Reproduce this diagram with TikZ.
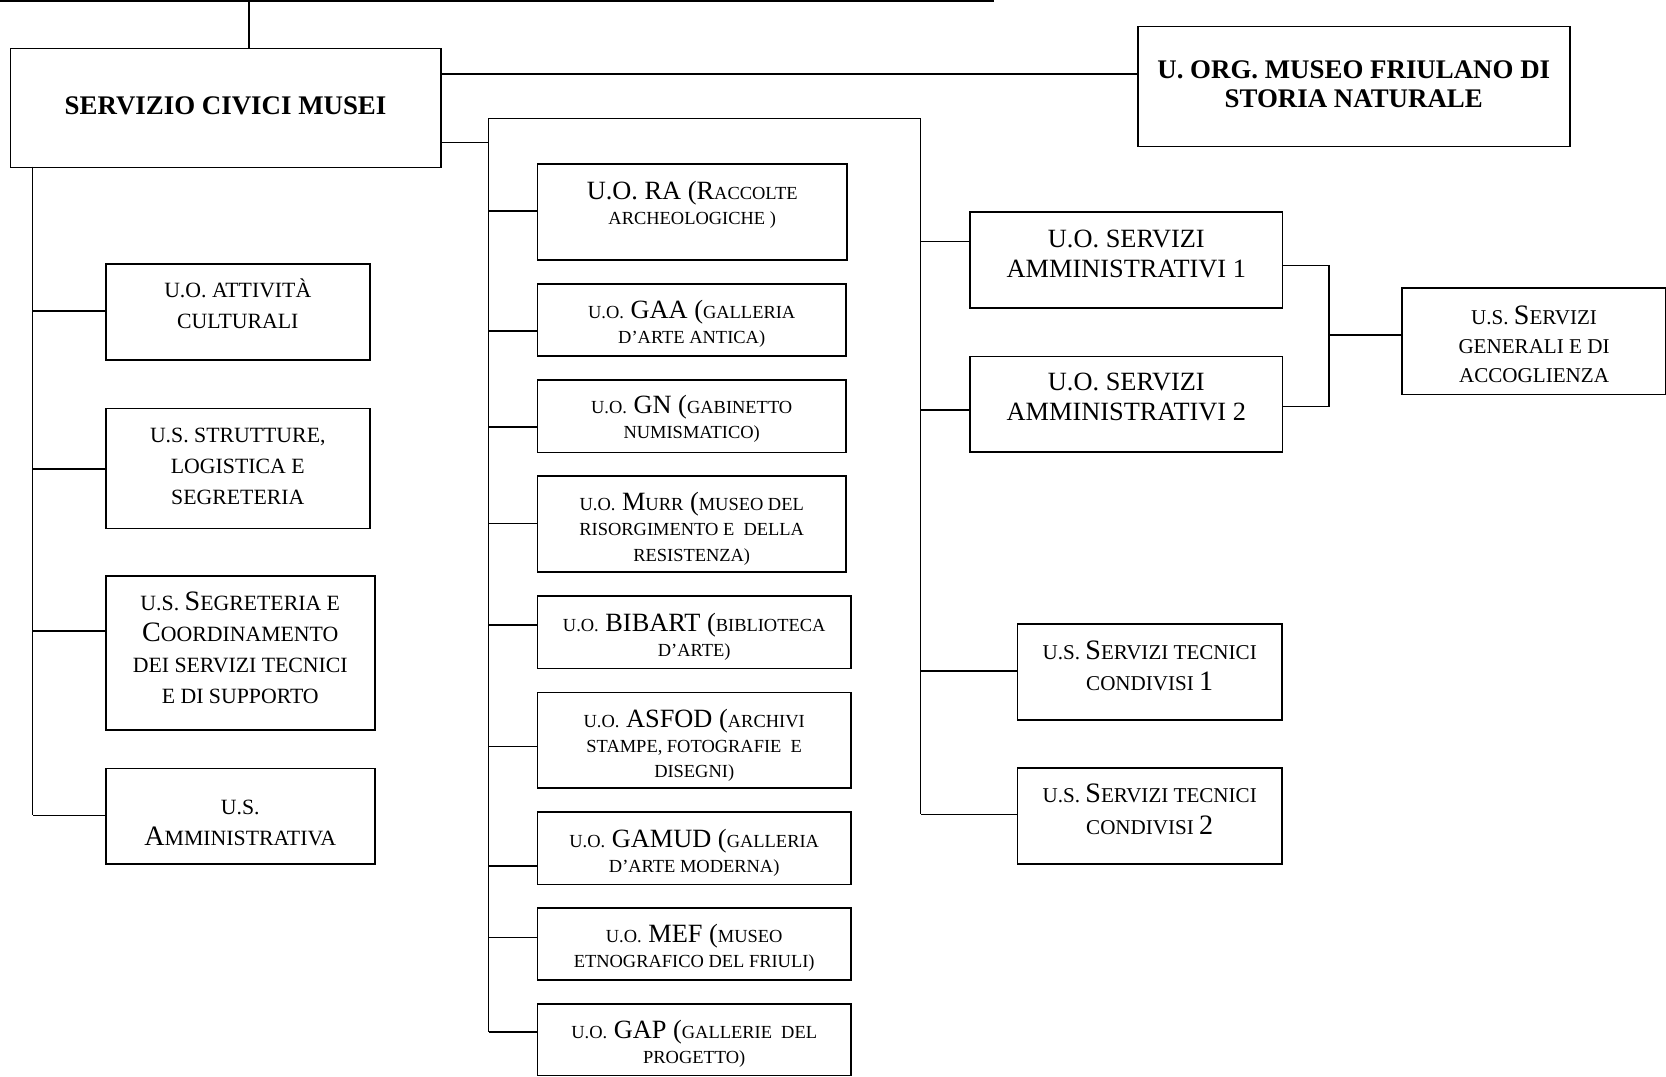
\documentclass[tikz,border=0pt]{standalone}
\usepackage{fontspec}
\setmainfont{Liberation Serif}
\usetikzlibrary{calc}

% text of a box: width, height, first baseline, lines
\newcommand\cell[4]{\parbox[c][#2][t]{#1}{\centering\rule{0pt}{#3}#4}}
\newcommand\midsc[1]{{\fontsize{10.5}{12}\selectfont #1}}
\newcommand\bigsc[1]{{\fontsize{16}{18}\selectfont #1}}

\begin{document}
\begin{tikzpicture}[x=0.02cm,y=-0.02cm,
    unit/.style={draw,line width=0.9pt,inner sep=0pt,anchor=north west},
    head/.style={unit,font=\fontsize{15.3}{16.3}\selectfont\bfseries},
    midunit/.style={unit,font=\fontsize{15}{14.3}\selectfont},
    leftunit/.style={unit,font=\fontsize{12.4}{17.6}\selectfont},
    rightunit/.style={unit,font=\fontsize{15}{17}\selectfont},
    smallunit/.style={unit,font=\fontsize{12}{18}\selectfont},
    link/.style={line width=0.8pt}]

\useasboundingbox (0,0) rectangle (1666,1076);

% heads
\node[head] (main) at (9.6,47.7) {\cell{8.61cm}{2.38cm}{1.33cm}{SERVIZIO CIVICI MUSEI}};
\node[head] (org) at (1137,25.7) {\cell{8.64cm}{2.4cm}{1.04cm}{U. ORG. MUSEO FRIULANO DI\\STORIA NATURALE}};

% left column
\node[leftunit] (attivita) at (105,263.3) {\cell{5.28cm}{1.92cm}{0.67cm}{U.O. ATTIVITÀ\\CULTURALI}};
\node[leftunit] (strutture) at (105,407.7) {\cell{5.28cm}{2.4cm}{0.68cm}{U.S. STRUTTURE,\\LOGISTICA E\\SEGRETERIA}};
\node[leftunit] (segreteria) at (105,575) {\cell{5.38cm}{3.08cm}{0.7cm}{U.S. \bigsc{S}EGRETERIA E\\\bigsc{C}OORDINAMENTO\\DEI SERVIZI TECNICI\\E DI SUPPORTO}};
\node[leftunit] (amministrativa) at (105,767.7) {\cell{5.38cm}{1.91cm}{0.92cm}{U.S.\\\bigsc{A}MMINISTRATIVA}};

% middle column
\node[midunit] (ra) at (536.7,163.3) {\cell{6.19cm}{1.92cm}{0.7cm}{U.O. RA (R\midsc{ACCOLTE}\\\midsc{ARCHEOLOGICHE )}}};
\node[midunit] (gaa) at (536.7,283.3) {\cell{6.17cm}{1.44cm}{0.69cm}{\midsc{U.O.} GAA (\midsc{GALLERIA}\\\midsc{D’ARTE ANTICA)}}};
\node[midunit] (gn) at (536.7,379.3) {\cell{6.17cm}{1.45cm}{0.67cm}{\midsc{U.O.} GN (\midsc{GABINETTO}\\\midsc{NUMISMATICO)}}};
\node[midunit] (murr) at (536.7,475) {\cell{6.17cm}{1.93cm}{0.7cm}{\midsc{U.O.} M\midsc{URR} (\midsc{MUSEO DEL}\\\midsc{RISORGIMENTO E~ DELLA}\\\midsc{RESISTENZA)}}};
\node[midunit] (bibart) at (536.7,595) {\cell{6.27cm}{1.45cm}{0.71cm}{\midsc{U.O.} BIBART (\midsc{BIBLIOTECA}\\\midsc{D’ARTE)}}};
\node[midunit] (asfod) at (536.7,691.7) {\cell{6.27cm}{1.91cm}{0.7cm}{\midsc{U.O.} ASFOD (\midsc{ARCHIVI}\\\midsc{STAMPE, FOTOGRAFIE~ E}\\\midsc{DISEGNI)}}};
\node[midunit] (gamud) at (536.7,811) {\cell{6.27cm}{1.45cm}{0.71cm}{\midsc{U.O.} GAMUD (\midsc{GALLERIA}\\\midsc{D’ARTE MODERNA)}}};
\node[midunit] (mef) at (536.7,907.3) {\cell{6.27cm}{1.44cm}{0.69cm}{\midsc{U.O.} MEF (\midsc{MUSEO}\\\midsc{ETNOGRAFICO DEL FRIULI)}}};
\node[midunit] (gap) at (536.7,1003.3) {\cell{6.27cm}{1.43cm}{0.68cm}{\midsc{U.O.} GAP (\midsc{GALLERIE~ DEL}\\\midsc{PROGETTO)}}};

% right column
\node[rightunit] (amm1) at (969.3,211) {\cell{6.25cm}{1.93cm}{0.71cm}{U.O. SERVIZI\\AMMINISTRATIVI 1}};
\node[rightunit] (amm2) at (969.3,355.7) {\cell{6.25cm}{1.91cm}{0.69cm}{U.O. SERVIZI\\AMMINISTRATIVI 2}};
\node[smallunit,font=\fontsize{12}{16.5}\selectfont] (generali) at (1401,287.3) {\cell{5.29cm}{2.13cm}{0.72cm}{U.S. \bigsc{S}ERVIZI\\GENERALI E DI\\ACCOGLIENZA}};
\node[smallunit] (tecnici1) at (1016.7,623.3) {\cell{5.29cm}{1.92cm}{0.7cm}{U.S. \bigsc{S}ERVIZI TECNICI\\CONDIVISI \bigsc{1}}};
\node[smallunit] (tecnici2) at (1016.7,767.3) {\cell{5.29cm}{1.92cm}{0.69cm}{U.S. \bigsc{S}ERVIZI TECNICI\\CONDIVISI \bigsc{2}}};

% connectors
\coordinate (top) at (249,1);
\coordinate (leftbus) at (32.7,166.7);
\coordinate (midbus) at (488.7,118.3);
\coordinate (rightbus) at (920.7,118.3);
\coordinate (join) at (1329,335);

\draw[line width=1.4pt] (0,1) -- (993,1) -- (993,0);
\draw[link] (top) -- (top |- main.north);
\draw[link] ([yshift=-0.53cm]main.north east) coordinate (m1) -- (m1 -| org.west);
\draw[link] ([yshift=-1.9cm]main.north east) coordinate (m2) -- (m2 -| midbus);

\foreach \n/\dy in {attivita/0.95,strutture/1.23,segreteria/1.12,amministrativa/0.95}
  \draw[link] ([yshift=-\dy cm]\n.north west) coordinate (\n-in) -- (\n-in -| leftbus);
\foreach \n/\dy in {ra/0.95,gaa/0.95,gn/0.95,murr/0.97,bibart/0.6,asfod/1.1,gamud/1.1,mef/0.6,gap/0.57}
  \draw[link] ([yshift=-\dy cm]\n.north west) coordinate (\n-in) -- (\n-in -| midbus);
\foreach \n/\dy in {amm1/0.61,amm2/1.09,tecnici1/0.95,tecnici2/0.94}
  \draw[link] ([yshift=-\dy cm]\n.north west) coordinate (\n-in) -- (\n-in -| rightbus);

\draw[link] (leftbus) -- (leftbus |- amministrativa-in);
\draw[link] (midbus |- gap-in) -- (midbus) -- (rightbus) -- (rightbus |- tecnici2-in);

\draw[link] ([yshift=-1.09cm]amm1.north east) -| (join);
\draw[link] ([yshift=-1.02cm]amm2.north east) -| (join);
\draw[link] (join) -- (join -| generali.west);
\end{tikzpicture}
\end{document}
